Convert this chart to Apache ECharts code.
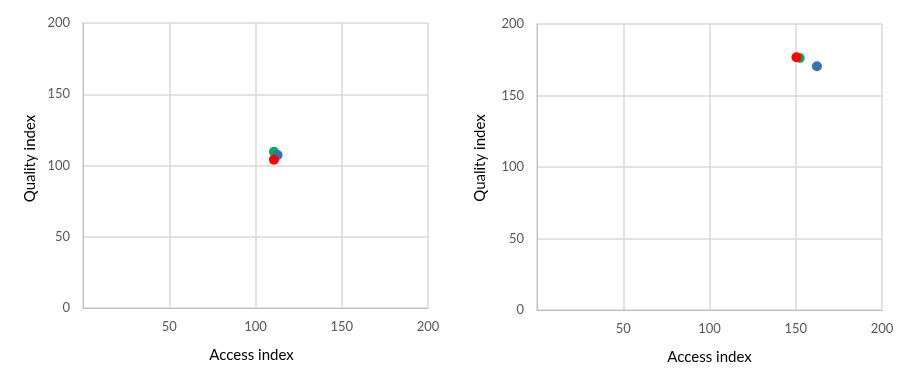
<!DOCTYPE html>
<html><head><meta charset="utf-8">
<script src="https://cdn.jsdelivr.net/npm/echarts@6/dist/echarts.min.js"></script>
<style>html,body{margin:0;padding:0;background:#fff}#c{width:897px;height:385px}</style>
</head><body><div id="c"></div>
<script>
// Left panel points [access, quality]
const leftGreen = [[110.7, 109.7]];
const leftBlue = [[112.8, 107.4]];
const leftRed = [[110.7, 104.1]];
// Right panel points
const rightGreen = [[152.3, 176.2]];
const rightBlue = [[162.3, 170.4]];
const rightRed = [[150.4, 176.7]];
const xTicks = [0, 50, 100, 150, 200];
const yTicks = [0, 50, 100, 150, 200];
const xName = 'Access index';
const yName = 'Quality index';
const colors = {green: '#00B050', blue: '#2E75B6', red: '#FF0000'};

const font = 'Lato, "Open Sans", sans-serif';
function xAxis(i, pad){
  return {gridIndex:i, type:'value', min:xTicks[0], max:xTicks[xTicks.length-1], interval:50,
    name:xName, nameLocation:'middle', nameGap:40,
    nameTextStyle:{color:'#000', fontSize:15, fontFamily:font, padding:pad},
    axisLine:{show:true, lineStyle:{color:'#bfbfbf', width:1}},
    axisTick:{show:false},
    axisLabel:{showMinLabel:false, color:'#595959', fontSize:13, fontFamily:font, margin:12},
    splitLine:{show:true, lineStyle:{color:'#d9d9d9', width:1.5}}};
}
function yAxis(i, gap, pad){
  return {gridIndex:i, type:'value', min:yTicks[0], max:yTicks[yTicks.length-1], interval:50,
    name:yName, nameLocation:'middle', nameGap:gap,
    nameTextStyle:{color:'#000', fontSize:15, fontFamily:font, padding:pad},
    axisLine:{show:true, lineStyle:{color:'#bfbfbf', width:1}},
    axisTick:{show:false},
    axisLabel:{color:'#595959', fontSize:13, fontFamily:font, margin:13},
    splitLine:{show:true, lineStyle:{color:'#d9d9d9', width:1.5}}};
}
function s(data, color, i){
  return {type:'scatter', xAxisIndex:i, yAxisIndex:i, data:data, symbolSize:10,
    itemStyle:{color:color, opacity:1}, emphasis:{disabled:true}, animation:false};
}
const chart = echarts.init(document.getElementById('c'), null, {renderer:'canvas'});
chart.setOption({
  animation:false,
  grid:[{left:83, top:23, width:345, height:285}, {left:537, top:24, width:345, height:286}],
  xAxis:[xAxis(0, [0,8,0,0]), xAxis(1, 0)],
  yAxis:[yAxis(0, 45, [0,0,0,14]), yAxis(1, 49, [0,0,0,18])],
  series:[
    s(leftGreen, colors.green, 0), s(leftBlue, colors.blue, 0), s(leftRed, colors.red, 0),
    s(rightGreen, colors.green, 1), s(rightBlue, colors.blue, 1), s(rightRed, colors.red, 1)
  ]
});
</script></body></html>
